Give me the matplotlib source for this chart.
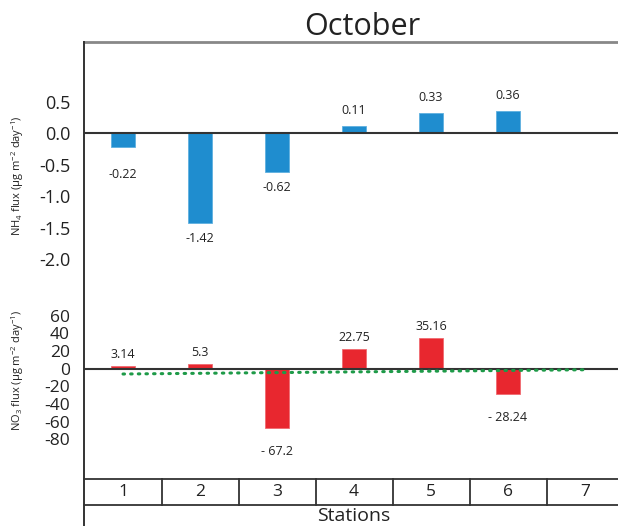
import matplotlib
matplotlib.use("Agg")
import matplotlib.pyplot as plt
import matplotlib.transforms as mtransforms
from matplotlib.lines import Line2D

plt.rcParams['font.family'] = ['Open Sans', 'DejaVu Sans']
plt.rcParams['mathtext.fontset'] = 'custom'
plt.rcParams['mathtext.rm'] = 'Open Sans'
plt.rcParams['mathtext.it'] = 'Open Sans'
plt.rcParams['axes.unicode_minus'] = False

# data
stations = [1, 2, 3, 4, 5, 6, 7]
nh4_stations = [1, 2, 3, 4, 5, 6]
nh4_flux = [-0.22, -1.42, -0.62, 0.11, 0.33, 0.36]
nh4_labels = ["-0.22", "-1.42", "-0.62", "0.11", "0.33", "0.36"]
no3_stations = [1, 2, 3, 4, 5, 6]
no3_flux = [3.14, 5.3, -67.2, 22.75, 35.16, -28.24]
no3_labels = ["3.14", "5.3", "- 67.2", "22.75", "35.16", "- 28.24"]
trend_x = [1, 7]
trend_y = [-6.0, -1.2]
nh4_ticks = [0.5, 0.0, -0.5, -1.0, -1.5, -2.0]
no3_ticks = [60, 40, 20, 0, -20, -40, -60, -80]

W, H = 618, 526
fig = plt.figure(figsize=(W / 100, H / 100), dpi=100)

def rect(x0, y0, x1, y1):
    # pixel box (top-left origin) -> figure fraction
    return [x0 / W, 1 - y1 / H, (x1 - x0) / W, (y1 - y0) / H]

blue = "#1f8dcf"
red = "#e8272f"
green = "#1e9a48"
dark = "#333333"

xl = (1 - 39 / 77, 1 + 495 / 77)

# NH4 panel
ax1 = fig.add_axes(rect(84, 42, 618, 280))
ax1.set_xlim(*xl)
ax1.set_ylim(-(280 - 133.3) / 63, (133.3 - 42) / 63)
ax1.bar(nh4_stations, nh4_flux, width=0.31, color=blue, edgecolor="#5fb0e0", linewidth=0.6, zorder=2)
ax1.axhline(0, color=dark, lw=1.5, zorder=3)
for i, (x, v, s) in enumerate(zip(nh4_stations, nh4_flux, nh4_labels)):
    if v >= 0:
        off = 9
    else:
        off = -21 if i == 0 else -9
    ax1.annotate(s, (x, v), xytext=(0, off), textcoords="offset pixels",
                 ha="center", va="bottom" if v >= 0 else "top", fontsize=9, color="#222222")
ax1.set_yticks(nh4_ticks)
ax1.set_yticklabels([f"{t:.1f}" for t in nh4_ticks], fontsize=13, color="#222222")
ax1.set_xticks([])
ax1.tick_params(axis="y", length=0, pad=10)
for s in ["left", "right", "bottom"]:
    ax1.spines[s].set_visible(False)
ax1.spines["top"].set_color("#888888")
ax1.spines["top"].set_linewidth(2)
ax1.set_title("October", fontsize=22, color="#222222", pad=2, x=(362 - 84) / (618 - 84))

# NO3 panel
ax2 = fig.add_axes(rect(84, 290, 618, 479))
ax2.set_xlim(*xl)
ax2.set_ylim(-(479 - 368.7) / 0.885, (368.7 - 290) / 0.885)
ax2.bar(no3_stations, no3_flux, width=0.31, color=red, edgecolor="#f06a70", linewidth=0.6, zorder=2)
ax2.axhline(0, color=dark, lw=1.5, zorder=3)
ax2.plot(trend_x, trend_y, linestyle=(0, (0.5, 2.0)), color=green, lw=2.2,
         dash_capstyle="round", zorder=4)
for x, v, s in zip(no3_stations, no3_flux, no3_labels):
    off = 5 if v >= 0 else -17
    ax2.annotate(s, (x, v), xytext=(0, off), textcoords="offset pixels",
                 ha="center", va="bottom" if v >= 0 else "top", fontsize=9, color="#222222")
ax2.set_yticks(no3_ticks)
ax2.set_yticklabels([str(t) for t in no3_ticks], fontsize=12.5, color="#222222")
ax2.set_xticks([])
ax2.tick_params(axis="y", length=0, pad=10)
for s in ["left", "right", "bottom", "top"]:
    ax2.spines[s].set_visible(False)

# y labels
fig.text(17.5 / W, 1 - 176 / H, r"NH$_4$ flux (µg m$^{-2}$ day$^{-1}$)", rotation=90,
         ha="center", va="center", fontsize=8, color="#222222")
fig.text(17.5 / W, 1 - 370 / H, r"NO$_3$ flux (µg m$^{-2}$ day$^{-1}$)", rotation=90,
         ha="center", va="center", fontsize=8, color="#222222")

# frame and station table
fig.add_artist(Line2D([84 / W, 84 / W], [1 - 42 / H, 0], transform=fig.transFigure, color=dark, lw=1.4))
for yy in [479, 505]:
    fig.add_artist(Line2D([84 / W, 1], [1 - yy / H, 1 - yy / H], transform=fig.transFigure, color=dark, lw=1.3))
tb = mtransforms.blended_transform_factory(ax2.transData, fig.transFigure)
for st in stations[:-1]:
    fig.add_artist(Line2D([st + 0.5, st + 0.5], [1 - 479 / H, 1 - 505 / H], transform=tb, color=dark, lw=1.3))
for st in stations:
    fig.text(st, 1 - 492 / H, str(st), transform=tb, ha="center", va="center", fontsize=12.5, color="#222222")
fig.text(4, 1 - 516 / H, "Stations", transform=tb, ha="center", va="center", fontsize=14, color="#222222")

fig.savefig("out.png", dpi=100)
